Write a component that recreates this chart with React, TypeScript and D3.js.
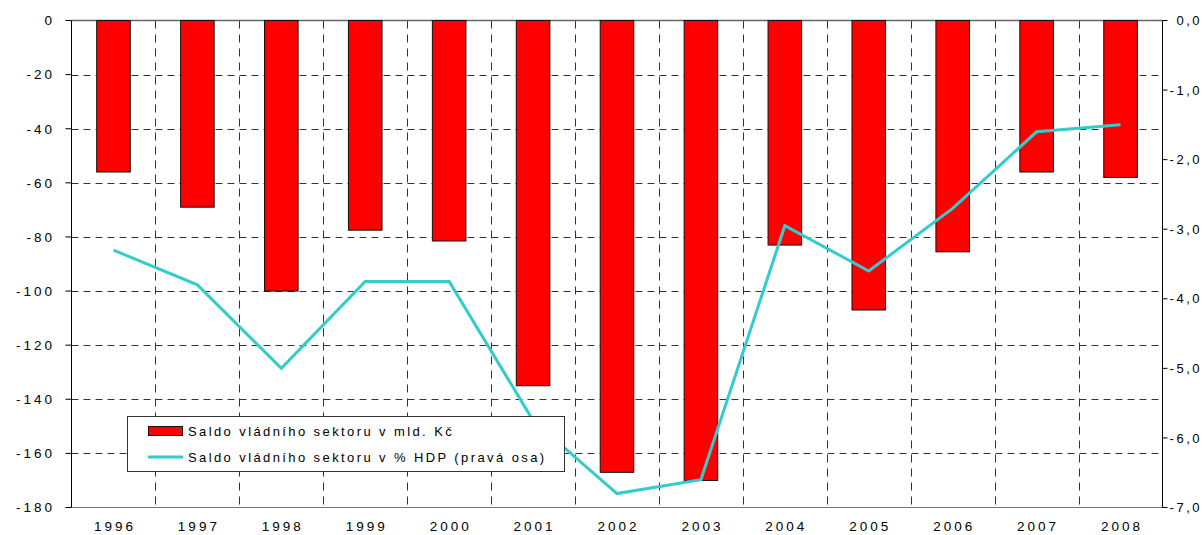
import React from "react";
import * as d3 from "d3";

const years = ["1996","1997","1998","1999","2000","2001","2002","2003","2004","2005","2006","2007","2008"];
const saldoMld = [-56, -69, -100, -77.5, -81.5, -135, -167, -170, -83, -107, -85.5, -56, -58];
const saldoPct = [-3.3, -3.8, -5.0, -3.75, -3.75, -5.75, -6.8, -6.6, -2.95, -3.6, -2.7, -1.6, -1.5];
const leftTicks = [0, -20, -40, -60, -80, -100, -120, -140, -160, -180];
const rightTicks = [0, -1, -2, -3, -4, -5, -6, -7];
const legendLabels = ["Saldo vládního sektoru v mld. Kč", "Saldo vládního sektoru v % HDP (pravá osa)"];

const W = 1204, H = 535;
const L = 71.5, R = 1162.5, T = 20.5, B = 507.5;
const FONT = "'Liberation Sans', Arial, sans-serif";
const LINE_COLOR = "#33CCCC";

export default function App() {
  const x = d3.scaleBand<string>().domain(years).range([L, R]).padding(0);
  const yL = d3.scaleLinear().domain([-180, 0]).range([B, T]);
  const yR = d3.scaleLinear().domain([-7, 0]).range([B, T]);
  const bw = x.bandwidth() * 0.4;
  const cx = (y: string) => (x(y) as number) + x.bandwidth() / 2;

  const line = d3.line<number>().x((_, i) => cx(years[i])).y((d) => yR(d));

  const fmtR = (v: number) => v.toFixed(1).replace(".", ",");

  return (
    <svg width={W} height={H} style={{ position: "absolute", left: 0, top: 0, background: "#fff" }} fontFamily={FONT}>
      {leftTicks.filter((t) => t !== 0 && t !== -180).map((t) => (
        <line key={"h" + t} x1={L} x2={R} y1={Math.round(yL(t)) + 0.5} y2={Math.round(yL(t)) + 0.5}
          stroke="#333" strokeDasharray="7,5" strokeWidth={1} />
      ))}
      {years.slice(1).map((y) => (
        <line key={"v" + y} x1={Math.round(x(y) as number) + 0.5} x2={Math.round(x(y) as number) + 0.5} y1={T} y2={B}
          stroke="#333" strokeDasharray="8,6" strokeWidth={1} />
      ))}
      <line x1={L} x2={R} y1={T} y2={T} stroke="#666" strokeWidth={1.5} />
      <line x1={L} x2={R} y1={B} y2={B} stroke="#777" strokeWidth={1} />

      {saldoMld.map((v, i) => (
        <rect key={"b" + i} x={cx(years[i]) - bw / 2} y={yL(0)} width={bw} height={yL(v) - yL(0)}
          fill="#FF0000" stroke="#111" strokeWidth={1} />
      ))}

      <path d={line(saldoPct) || ""} fill="none" stroke={LINE_COLOR} strokeWidth={3} strokeLinejoin="miter" />

      <line x1={L} x2={L} y1={T} y2={B} stroke="#000" strokeWidth={1} />
      {leftTicks.map((t) => (
        <g key={"lt" + t}>
          <line x1={L - 6} x2={L} y1={yL(t)} y2={yL(t)} stroke="#000" />
          <text x={55} y={yL(t)} dy="0.36em" textAnchor="end" fontSize={13.5} letterSpacing={3} fill="#000">{t}</text>
        </g>
      ))}

      <line x1={R} x2={R} y1={T} y2={B} stroke="#000" strokeWidth={1} />
      {rightTicks.map((t) => (
        <g key={"rt" + t}>
          <line x1={R} x2={R + 5} y1={yR(t)} y2={yR(t)} stroke="#000" />
          <text x={1202} y={yR(t)} dy="0.36em" textAnchor="end" fontSize={13} letterSpacing={2.5} fill="#000">{fmtR(t)}</text>
        </g>
      ))}

      {years.map((y) => (
        <text key={"x" + y} x={cx(y) + 1.5} y={531} textAnchor="middle" fontSize={13.5} letterSpacing={3} fill="#000">{y}</text>
      ))}

      <g>
        <rect x={127.5} y={416.5} width={437} height={55} fill="#fff" stroke="#333" strokeWidth={1} />
        <rect x={148.5} y={426.5} width={34} height={9} fill="#FF0000" stroke="#111" strokeWidth={1} />
        <text x={188} y={436} fontSize={13} letterSpacing={2.4} fill="#000">{legendLabels[0]}</text>
        <line x1={148} x2={183} y1={457} y2={457} stroke={LINE_COLOR} strokeWidth={3} />
        <text x={188} y={462} fontSize={13} letterSpacing={2.4} fill="#000">{legendLabels[1]}</text>
      </g>
    </svg>
  );
}
